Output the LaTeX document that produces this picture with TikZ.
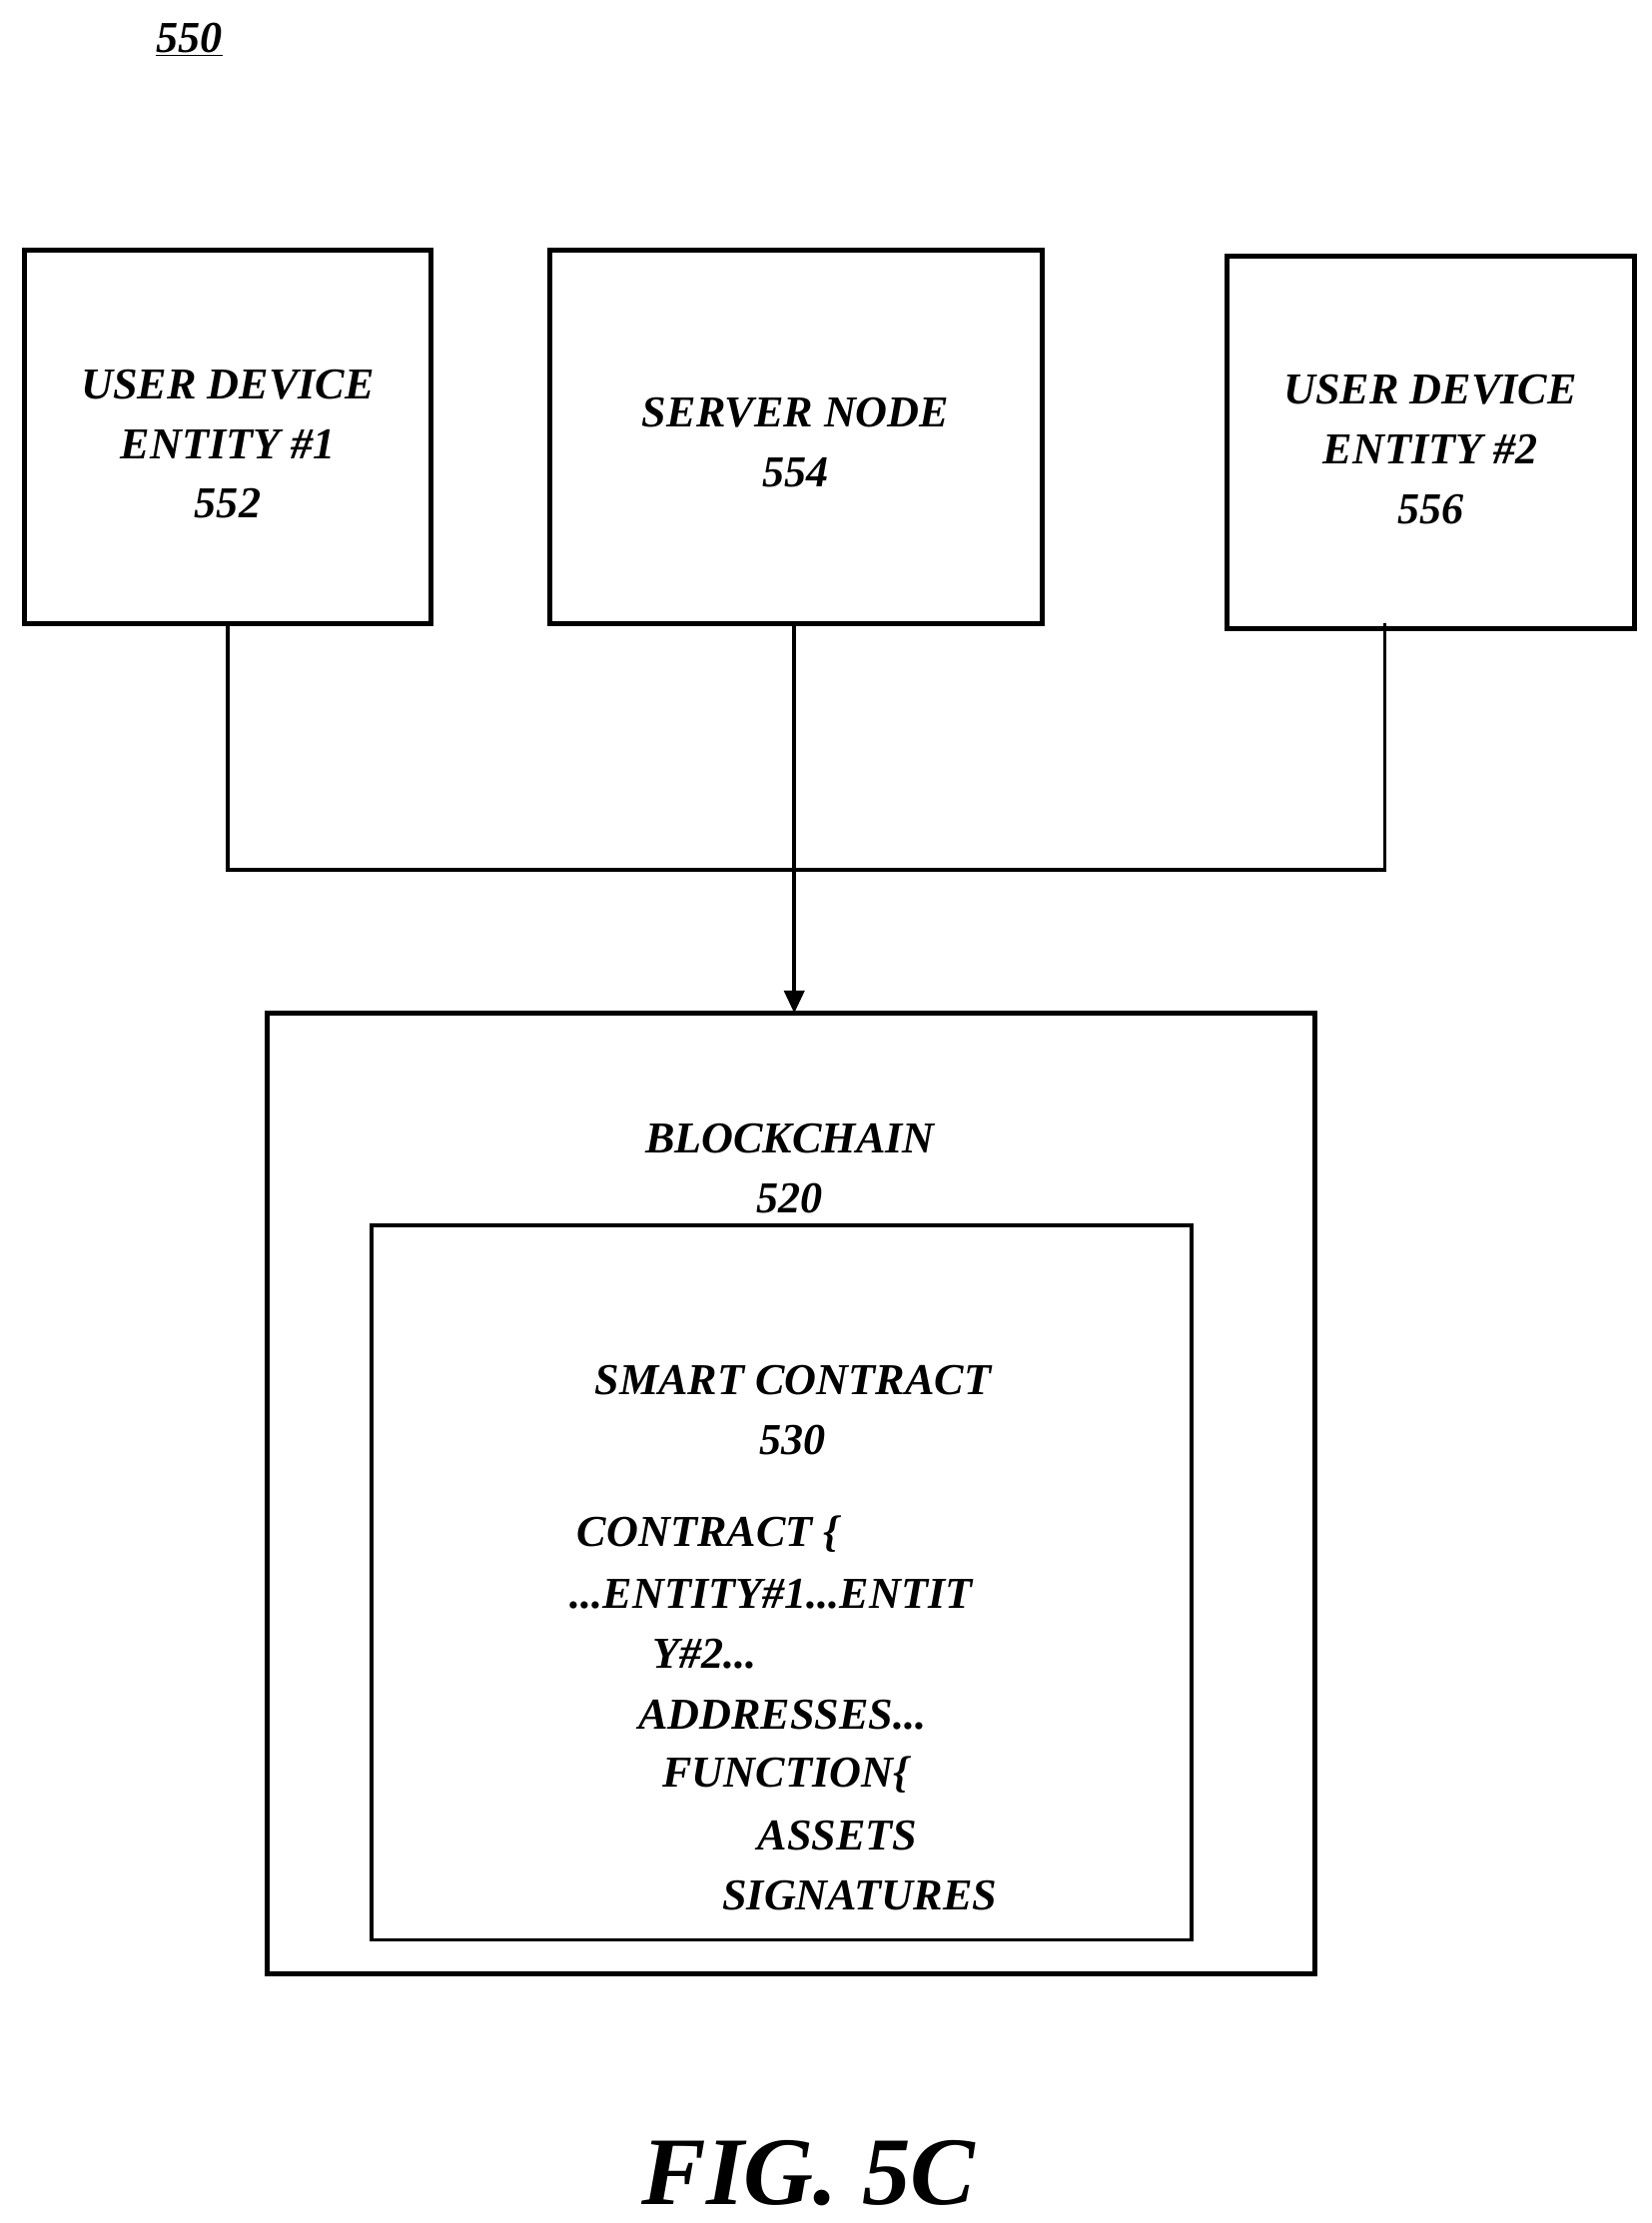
\documentclass[tikz,border=0pt]{standalone}
\usepackage{fontspec}
\setmainfont{Liberation Serif}
\usetikzlibrary{arrows.meta}
\begin{document}
\begin{tikzpicture}[x=1pt,y=-1pt,
    box/.style ={draw, line width=3.5pt},
    label/.style ={font=\fontsize{31}{42}\selectfont\bfseries\itshape, align=center},
    code/.style ={font=\fontsize{31}{42}\selectfont\bfseries\itshape, anchor=west}]
   \useasboundingbox (0,0) rectangle (1160,1562);

   \node[font=\fontsize{31}{42}\selectfont\bfseries\itshape] (title) at (133,28) {\underline{550}};

   \draw[box] (17,176) rectangle (303,438);
   \draw[box] (386,176) rectangle (732,438);
   \draw[box] (862,180) rectangle (1148,442);
   \draw[box] (188,712) rectangle (924,1387);
   \draw[line width=2.5pt] (261,861) rectangle (837,1363);

   \node[label] (dev1) at (160,312) {USER DEVICE\\ENTITY \#1\\552};
   \node[label] (server) at (559,311) {SERVER NODE\\554};
   \node[label] (dev2) at (1005,316) {USER DEVICE\\ENTITY \#2\\556};
   \node[label] (chain) at (555,821) {BLOCKCHAIN\\520};
   \node[label] (contract) at (557,991) {SMART CONTRACT\\530};

   \coordinate (d1) at (160,438);
   \coordinate (d2) at (973,438);
   \coordinate (s) at (558,438);
   \coordinate (c) at (558,712);
   \draw[line width=2.5pt] (d1) |- (558,611) -| (d2);
   \draw[line width=3pt, -{Triangle[length=16pt,width=14pt]}] (s) -- (c);

   \node[code] (l1) at (402,1078) {CONTRACT \{};
   \node[code] (l2) at (397,1120) {...ENTITY\#1...ENTIT};
   \node[code] (l3) at (455,1162) {Y\#2...};
   \node[code] (l4) at (445,1205) {ADDRESSES...};
   \node[code] (l5) at (462,1247) {FUNCTION\{};
   \node[code] (l6) at (529,1290) {ASSETS};
   \node[code] (l7) at (504,1332) {SIGNATURES};

   \node[font=\fontsize{68}{80}\selectfont\bfseries\itshape] (fig) at (568,1527) {FIG. 5C};
\end{tikzpicture}
\end{document}
